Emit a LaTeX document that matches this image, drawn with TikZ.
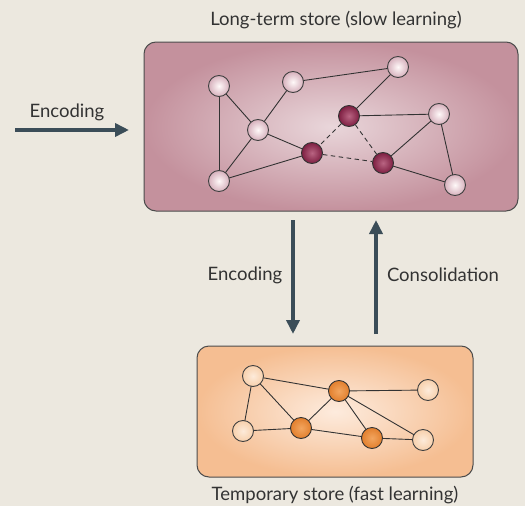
\documentclass[tikz,border=0pt]{standalone}
\usepackage{fontspec}
\setmainfont{Lato}
\usetikzlibrary{arrows.meta}
\definecolor{bg}{HTML}{ECE8DF}
\definecolor{arrowc}{HTML}{3B4D58}
\definecolor{txt}{HTML}{333333}
\definecolor{ltin}{HTML}{E9D6DA}
\definecolor{ltout}{HTML}{C4919D}
\definecolor{stin}{HTML}{FDEBDD}
\definecolor{stout}{HTML}{F5BE92}
\pgfdeclarelayer{boxl}
\pgfdeclarelayer{edgel}
\pgfsetlayers{boxl,edgel,main}
\tikzset{
  lbl/.style={font=\fontsize{18.5}{22}\selectfont, text=txt, inner sep=0pt},
  nd/.style={circle, minimum size=21pt, inner sep=0pt, line width=0.9pt, shading=radial},
  pinknode/.style={nd, draw=black!75, inner color=white!90!pink, outer color={rgb,255:red,214;green,176;blue,188}},
  darknode/.style={nd, draw=black!80, inner color={rgb,255:red,185;green,100;blue,130}, outer color={rgb,255:red,125;green,30;blue,65}},
  peachnode/.style={nd, draw=black!75, inner color={rgb,255:red,253;green,235;blue,218}, outer color={rgb,255:red,247;green,208;blue,172}},
  orangenode/.style={nd, draw=black!80, inner color={rgb,255:red,242;green,165;blue,95}, outer color={rgb,255:red,226;green,127;blue,45}},
  edge/.style={draw=black!80, line width=0.9pt},
  dedge/.style={edge, dash pattern=on 4.5pt off 3.5pt},
  bigarrow/.style={draw=arrowc, line width=4pt, -{Triangle[length=14pt, width=13pt]}},
}
\begin{document}
\begin{tikzpicture}[x=1pt, y=-1pt]
\begin{pgfonlayer}{boxl}
\fill[bg] (0,0) rectangle (525,506);
\path[draw=black!70, line width=1pt, rounded corners=12pt, shading=radial, inner color=ltin, outer color=ltout] (144,42) rectangle (518,211);
\path[draw=black!70, line width=1pt, rounded corners=12pt, shading=radial, inner color=stin, outer color=stout] (197,346) rectangle (473,477);
\end{pgfonlayer}
\useasboundingbox (0,0) rectangle (525,506);

% long-term store
\node[lbl] (ltitle) at (336,20) {Long-term store (slow learning)};

\node[pinknode] (A) at (219,86) {};
\node[pinknode] (B) at (293,82) {};
\node[pinknode] (C) at (398,67) {};
\node[pinknode] (D) at (258,130) {};
\node[darknode] (E) at (349,116) {};
\node[pinknode] (F) at (439,114) {};
\node[darknode] (G) at (312,153) {};
\node[darknode] (H) at (383,163) {};
\node[pinknode] (I) at (219,181) {};
\node[pinknode] (J) at (455,185) {};

% temporary store
\node[lbl] (stitle) at (335,495) {Temporary store (fast learning)};

\node[peachnode] (a) at (253,376) {};
\node[orangenode] (b) at (339,391) {};
\node[peachnode] (c) at (428,390) {};
\node[peachnode] (d) at (243,431) {};
\node[orangenode] (e) at (301,428) {};
\node[orangenode] (f) at (372,438) {};
\node[peachnode] (g) at (423,440) {};

\begin{pgfonlayer}{edgel}
\draw[edge] (A.center) -- (D.center);
\draw[edge] (A.center) -- (I.center);
\draw[edge] (D.center) -- (B.center);
\draw[edge] (B.center) -- (C.center);
\draw[edge] (C.center) -- (E.center);
\draw[edge] (D.center) -- (G.center);
\draw[edge] (D.center) -- (I.center);
\draw[edge] (I.center) -- (G.center);
\draw[edge] (E.center) -- (F.center);
\draw[edge] (F.center) -- (H.center);
\draw[edge] (F.center) -- (J.center);
\draw[edge] (H.center) -- (J.center);
\draw[dedge] (E) -- (G);
\draw[dedge] (G) -- (H);
\draw[dedge] (E) -- (H);

\draw[edge] (a.center) -- (b.center);
\draw[edge] (a.center) -- (e.center);
\draw[edge] (a.center) -- (d.center);
\draw[edge] (d.center) -- (e.center);
\draw[edge] (e.center) -- (b.center);
\draw[edge] (b.center) -- (c.center);
\draw[edge] (b.center) -- (f.center);
\draw[edge] (b.center) -- (g.center);
\draw[edge] (e.center) -- (f.center);
\draw[edge] (f.center) -- (g.center);
\end{pgfonlayer}

% arrows
\coordinate (encL0) at (15,130);
\coordinate (encL1) at (129,130);
\draw[bigarrow] (encL0) -- (encL1);
\node[lbl] (encLt) at (67,112) {Encoding};

\coordinate (encD0) at (293,220);
\coordinate (encD1) at (293,334);
\draw[bigarrow] (encD0) -- (encD1);
\node[lbl] (encDt) at (245,275) {Encoding};

\coordinate (con0) at (376,334);
\coordinate (con1) at (376,220);
\draw[bigarrow] (con0) -- (con1);
\node[lbl] (cont) at (443,275) {Consolidation};
\end{tikzpicture}
\end{document}
